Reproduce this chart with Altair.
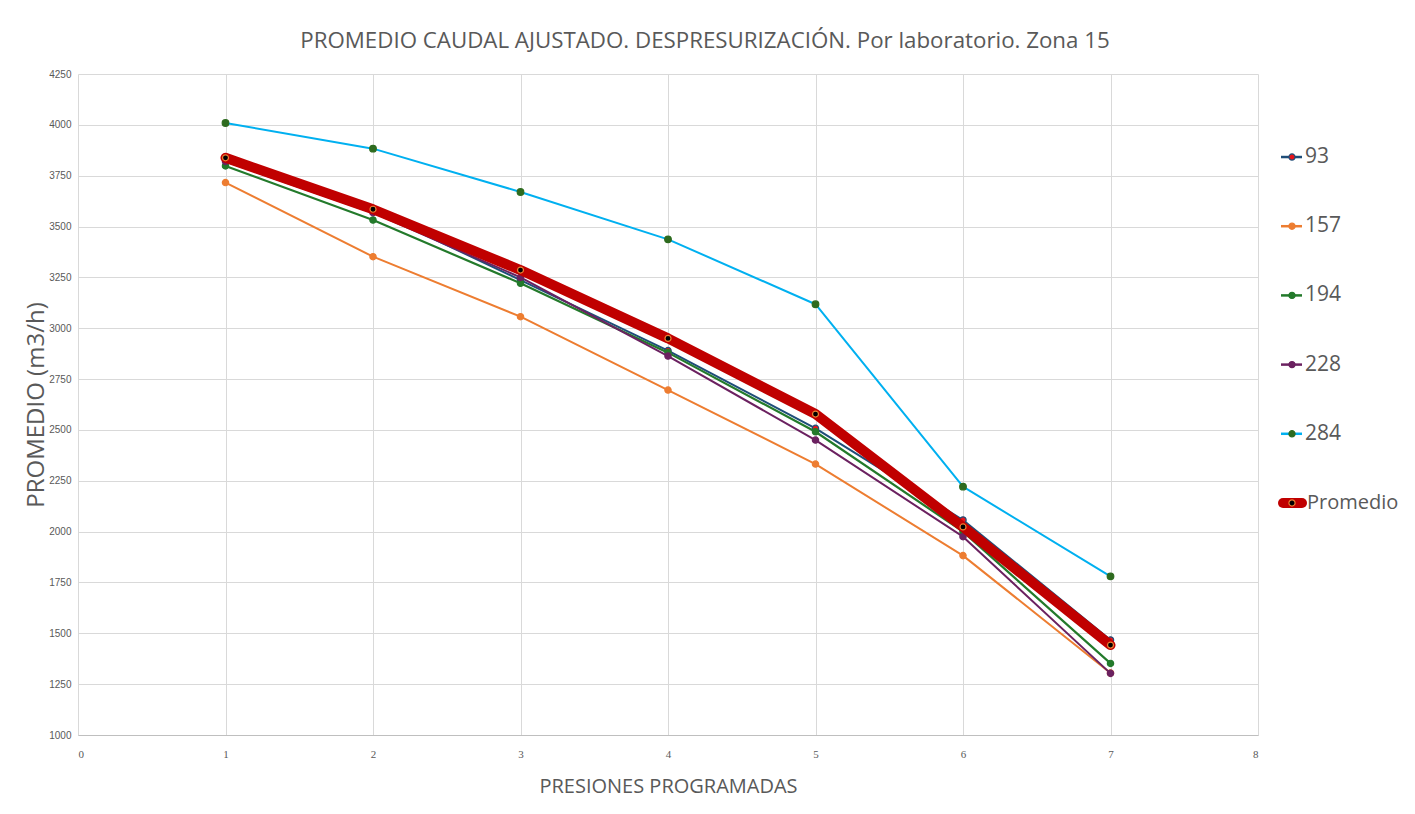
import altair as alt
import pandas as pd

# ---- data ----
x_vals = [1, 2, 3, 4, 5, 6, 7]
s93 = [3840, 3580, 3237, 2890, 2508, 2057, 1467]
s157 = [3716, 3352, 3057, 2696, 2332, 1882, 1305]
s194 = [3798, 3532, 3221, 2880, 2491, 2000, 1352]
s228 = [3820, 3568, 3250, 2863, 2450, 1975, 1303]
s284 = [4009, 3883, 3670, 3437, 3118, 2221, 1780]
promedio = [3838, 3585, 3286, 2950, 2578, 2023, 1442]

series_names = ["93", "157", "194", "228", "284", "Promedio"]
series_values = [s93, s157, s194, s228, s284, promedio]

y_ticks = [1000, 1250, 1500, 1750, 2000, 2250, 2500, 2750, 3000, 3250, 3500, 3750, 4000, 4250]
x_ticks = [0, 1, 2, 3, 4, 5, 6, 7, 8]

# ---- styles ----
line_colors = ["#1f4e79", "#ed7d31", "#237a2b", "#6b2160", "#00b0f0", "#c00000"]
marker_fill = ["#e8141b", "#ed7d31", "#237a2b", "#6b2160", "#2e6b1f", "#000000"]
marker_stroke = ["#1f4e79", "#ed7d31", "#237a2b", "#6b2160", "#2e6b1f", "#ed7d31"]
line_widths = [2, 2, 2.2, 2, 2, 10]
marker_sizes = [40, 40, 40, 40, 44, 36]

GRAY = "#595959"
FONT = "Open Sans"

rows = []
for name, vals in zip(series_names, series_values):
    for xv, yv in zip(x_vals, vals):
        rows.append({"serie": name, "x": xv, "y": yv})
df = pd.DataFrame(rows)

xs = alt.Scale(domain=[0, 8], nice=False, zero=False)
ys = alt.Scale(domain=[1000, 4250], nice=False, zero=False)

x_axis = alt.Axis(values=x_ticks, title="PRESIONES PROGRAMADAS", grid=True, gridColor="#d9d9d9",
                  ticks=False, domain=True, domainColor="#bfbfbf", labelColor=GRAY,
                  labelFont="Liberation Sans Narrow", labelFontSize=11, labelPadding=13,
                  titleFont=FONT, titleFontSize=20, titleFontWeight="normal", titleColor=GRAY,
                  titlePadding=17)
y_axis = alt.Axis(values=y_ticks, format="d", title="PROMEDIO (m3/h)", grid=True,
                  gridColor="#d9d9d9", ticks=False, domain=False, labelColor=GRAY,
                  labelFont="Liberation Sans", labelFontSize=10, labelPadding=7,
                  titleFont=FONT, titleFontSize=24, titleFontWeight="normal", titleColor=GRAY,
                  titlePadding=0)

layers = []
for i, name in enumerate(series_names):
    d = df[df.serie == name]
    base = alt.Chart(d).encode(
        x=alt.X("x:Q", scale=xs, axis=x_axis),
        y=alt.Y("y:Q", scale=ys, axis=y_axis),
    )
    line = base.mark_line(color=line_colors[i], strokeWidth=line_widths[i],
                          strokeCap="round", strokeJoin="round")
    pts = base.mark_circle(fill=marker_fill[i], stroke=marker_stroke[i],
                           strokeWidth=1.2, size=marker_sizes[i], opacity=1)
    layers += [line, pts]

main = alt.layer(*layers).properties(
    width=1180, height=661,
    title=alt.TitleParams("PROMEDIO CAUDAL AJUSTADO. DESPRESURIZACIÓN. Por laboratorio. Zona 15",
                          font=FONT, fontSize=22.3, fontWeight="normal", color=GRAY,
                          anchor="middle", dx=37, offset=17),
)

# ---- legend panel drawn through a band scale ----
leg_df = pd.DataFrame({"serie": series_names})
leg_y = alt.Y("serie:N", sort=series_names, axis=None,
              scale=alt.Scale(paddingInner=0, paddingOuter=0.70))
stroke_scale = alt.Scale(domain=series_names, range=line_colors)
fill_scale = alt.Scale(domain=series_names, range=marker_fill)
mstroke_scale = alt.Scale(domain=series_names, range=marker_stroke)

leg_base = alt.Chart(leg_df).encode(y=leg_y)
others = leg_base.transform_filter(alt.datum.serie != "Promedio")
prom = leg_base.transform_filter(alt.datum.serie == "Promedio")

leg_layers = [
    others.mark_rule(strokeWidth=2.5).encode(
        x=alt.value(6), x2=alt.value(27),
        stroke=alt.Stroke("serie:N", scale=stroke_scale, legend=None)),
    prom.mark_rule(strokeWidth=10, strokeCap="round").encode(
        x=alt.value(8), x2=alt.value(27),
        stroke=alt.Stroke("serie:N", scale=stroke_scale, legend=None)),
    leg_base.mark_circle(size=38, opacity=1, strokeWidth=1.2).encode(
        x=alt.value(17),
        fill=alt.Fill("serie:N", scale=fill_scale, legend=None),
        stroke=alt.Stroke("serie:N", scale=mstroke_scale, legend=None)),
    others.mark_text(align="left", baseline="middle", font=FONT, fontSize=21, color=GRAY).encode(
        x=alt.value(30), text="serie:N"),
    prom.mark_text(align="left", baseline="middle", font=FONT, fontSize=20, color=GRAY).encode(
        x=alt.value(32), text="serie:N"),
]
legend = alt.layer(*leg_layers).resolve_scale(stroke="independent").properties(width=110, height=512)

chart = alt.hconcat(main, legend, spacing=17).configure(
    padding={"left": 16, "top": 21, "right": 2, "bottom": 5}, background="white"
).configure_view(strokeWidth=0, stroke="transparent")

chart.save("out.html", embed_options={"renderer": "svg", "actions": False})
